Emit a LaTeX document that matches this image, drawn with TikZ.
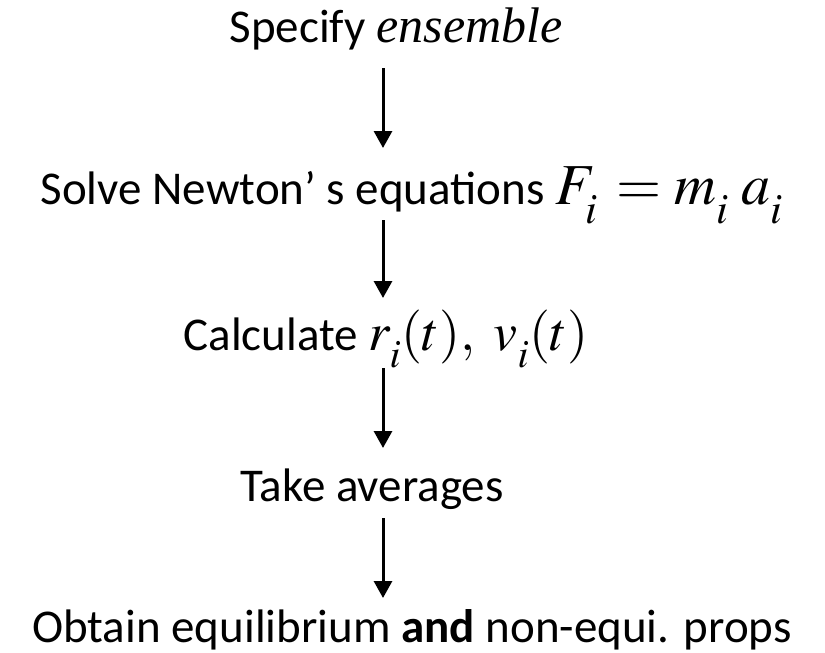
\documentclass[tikz,border=0pt]{standalone}
\usepackage{mathptmx}
\usepackage[no-math]{fontspec}
\setmainfont{Carlito}
\newfontfamily\tnr{Liberation Serif}
\usetikzlibrary{arrows.meta}

% low subscript, as in the slide
\newcommand{\lsub}[1]{_{\raisebox{-0.18em}{$\scriptstyle #1$}}}

\tikzset{
  stage/.style={anchor=base, inner sep=0pt, font=\fontsize{47}{52}\selectfont},
  flow/.style={line width=3pt, -{Triangle[length=17pt,width=18pt]}}
}

\begin{document}
\begin{tikzpicture}[x=1pt,y=1pt,yscale=-1,xscale=1]
\useasboundingbox (0,0) rectangle (825,653);

% Text Node
\node[stage] (spec) at (396,42) {Specify {\tnr\itshape\fontsize{50}{56}\selectfont ensemble}};
% Text Node
\node[stage] (solve) at (412,204) {Solve Newton’ s equations {\fontsize{58}{62}\selectfont$F\lsub{i}\, = m\lsub{i}\;a\lsub{i}$}};
% Text Node
\node[stage] (calc) at (386,350) {Calculate {\fontsize{54}{60}\selectfont$r\lsub{i}(t),\ v\lsub{i}(t)$}};
% Text Node
\node[stage] (take) at (372,501) {Take averages};
% Text Node
\node[stage] (obtain) at (412,642) {Obtain equilibrium \textbf{and} non-equi. props};

% Arrow ends
\coordinate (a1) at (383,68);  \coordinate (b1) at (383,148);
\coordinate (a2) at (383,220); \coordinate (b2) at (383,298);
\coordinate (a3) at (383,368); \coordinate (b3) at (383,448);
\coordinate (a4) at (383,518); \coordinate (b4) at (383,598);

%Straight Lines
\foreach \k in {1,...,4}
  \draw[flow] (a\k) -- (b\k);
\end{tikzpicture}
\end{document}
